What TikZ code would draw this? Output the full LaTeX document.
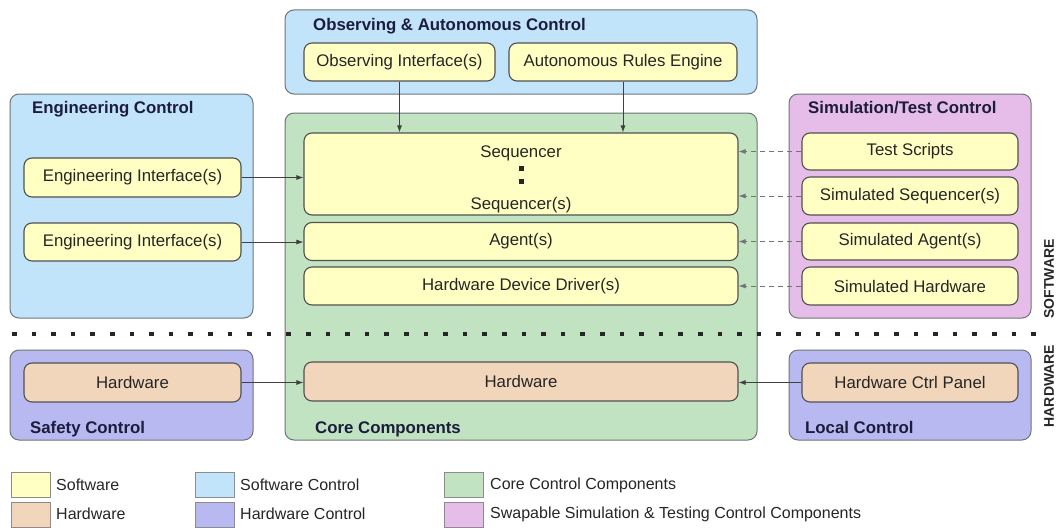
\documentclass[tikz,border=0pt]{standalone}
\usepackage{fontspec}
\setmainfont{Liberation Sans}
\usetikzlibrary{arrows.meta}
\definecolor{swfill}{HTML}{FFFFC4}
\definecolor{hwfill}{HTML}{F2D6BC}
\definecolor{swctl}{HTML}{C2E4FA}
\definecolor{hwctl}{HTML}{B9B9F2}
\definecolor{corefill}{HTML}{C2E3C2}
\definecolor{simfill}{HTML}{E6BDE9}
\definecolor{outline}{HTML}{6E7478}
\definecolor{inline}{HTML}{505050}
\definecolor{titlecol}{HTML}{1C1C3C}
\definecolor{txt}{HTML}{262626}
\begin{document}
\begin{tikzpicture}[x=1pt,y=-1pt,
  font=\fontsize{16.8}{19}\selectfont,
  group/.style={draw=outline, line width=1pt, rounded corners=9pt, inner sep=0pt},
  comp/.style={draw=inline, line width=1.1pt, rounded corners=8pt, inner sep=0pt, text=txt},
  gtitle/.style={font=\fontsize{16.8}{19}\selectfont\bfseries, text=titlecol, anchor=base west, inner sep=0pt},
  conn/.style={-{Latex[length=7pt,width=5pt]}, line width=0.8pt, draw=black!75},
  dconn/.style={conn, dash pattern=on 5pt off 4pt, draw=black!55},
  legsq/.style={draw=black!45, line width=0.8pt, minimum width=39pt, minimum height=25pt, inner sep=0pt},
  legtxt/.style={anchor=west, inner sep=0pt, text=txt, font=\fontsize{16}{19}\selectfont},
  vlabel/.style={rotate=90, font=\fontsize{14}{15}\selectfont\bfseries, text=txt, inner sep=0pt}
]
\useasboundingbox (0,0) rectangle (1056,527);
\fill[white] (0,0) rectangle (1056,527);

% groups
\node[group, fill=swctl, minimum width=472pt, minimum height=84pt] (obsgrp) at (521,52) {};
\node[gtitle] (obsttl) at (313,31) {Observing \& Autonomous Control};
\node[group, fill=corefill, minimum width=472pt, minimum height=327pt] (coregrp) at (521,276.5) {};
\node[gtitle] (corettl) at (315,433) {Core Components};
\node[group, fill=swctl, minimum width=243pt, minimum height=224pt] (enggrp) at (131.5,206) {};
\node[gtitle] (engttl) at (32,113) {Engineering Control};
\node[group, fill=simfill, minimum width=242pt, minimum height=224pt] (simgrp) at (910,206) {};
\node[gtitle] (simttl) at (808,113) {Simulation/Test Control};
\node[group, fill=hwctl, minimum width=243pt, minimum height=90pt] (safgrp) at (131.5,395) {};
\node[gtitle] (safttl) at (30,433) {Safety Control};
\node[group, fill=hwctl, minimum width=242pt, minimum height=90pt] (locgrp) at (910,395) {};
\node[gtitle] (locttl) at (805,433) {Local Control};

% components
\node[comp, fill=swfill, minimum width=191pt, minimum height=38pt] (obsif) at (399.5,62) {Observing Interface(s)};
\node[comp, fill=swfill, minimum width=228pt, minimum height=38pt] (auto) at (623,62) {Autonomous Rules Engine};
\node[comp, fill=swfill, minimum width=434pt, minimum height=82pt] (seq) at (521,174) {};
\node[inner sep=0pt, text=txt] (seqa) at (521,153) {Sequencer};
\node[inner sep=0pt, text=txt] (seqb) at (521,205) {Sequencer(s)};
\fill[black!85] (518.5,165.5) rectangle (523.5,170.5);
\fill[black!85] (518.5,178.5) rectangle (523.5,183.5);
\node[comp, fill=swfill, minimum width=434pt, minimum height=38pt] (agent) at (521,241.5) {Agent(s)};
\node[comp, fill=swfill, minimum width=434pt, minimum height=38pt] (hdd) at (521,286) {Hardware Device Driver(s)};
\node[comp, fill=hwfill, minimum width=434pt, minimum height=39pt] (corehw) at (521,381.5) {Hardware};
\node[comp, fill=swfill, minimum width=217pt, minimum height=39pt] (eng1) at (132.5,177.5) {Engineering Interface(s)};
\node[comp, fill=swfill, minimum width=217pt, minimum height=38pt] (eng2) at (132.5,242) {Engineering Interface(s)};
\node[comp, fill=swfill, minimum width=216pt, minimum height=37pt] (tests) at (910,151.5) {Test Scripts};
\node[comp, fill=swfill, minimum width=216pt, minimum height=38pt] (simseq) at (910,196) {Simulated Sequencer(s)};
\node[comp, fill=swfill, minimum width=216pt, minimum height=37pt] (simagent) at (910,241.5) {Simulated Agent(s)};
\node[comp, fill=swfill, minimum width=216pt, minimum height=38pt] (simhw) at (910,286) {Simulated Hardware};
\node[comp, fill=hwfill, minimum width=217pt, minimum height=39pt] (safhw) at (132.5,382.5) {Hardware};
\node[comp, fill=hwfill, minimum width=216pt, minimum height=39pt] (panel) at (910,382.5) {Hardware Ctrl Panel};

% connectors
\draw[conn] (obsif.south) -- (obsif.south |- seq.north);
\draw[conn] (auto.south) -- (auto.south |- seq.north);
\draw[conn] (eng1.east) -- (eng1.east -| seq.west);
\draw[conn] (eng2.east) -- (eng2.east -| agent.west);
\draw[dconn] (tests.west) -- (tests.west -| seq.east);
\draw[dconn] (simseq.west) -- (simseq.west -| seq.east);
\draw[dconn] (simagent.west) -- (simagent.west -| agent.east);
\draw[dconn] (simhw.west) -- (simhw.west -| hdd.east);
\draw[conn] (safhw.east) -- (safhw.east -| corehw.west);
\draw[conn] (panel.west) -- (panel.west -| corehw.east);

% software / hardware divider
\draw[line width=4.5pt, dash pattern=on 4.5pt off 15.1pt, draw=black!85] (12,334) -- (1042,334);
\node[vlabel] (swlbl) at (1049,279) {SOFTWARE};
\node[vlabel] (hwlbl) at (1049,386) {HARDWARE};

% legend
\node[legsq, fill=swfill] (lg1) at (30.5,484.5) {};
\node[legtxt] (lt1) at (56,485) {Software};
\node[legsq, fill=hwfill] (lg2) at (30.5,514.5) {};
\node[legtxt] (lt2) at (56,514) {Hardware};
\node[legsq, fill=swctl] (lg3) at (215,484.5) {};
\node[legtxt] (lt3) at (240,485) {Software Control};
\node[legsq, fill=hwctl] (lg4) at (215,514.5) {};
\node[legtxt] (lt4) at (240,514) {Hardware Control};
\node[legsq, fill=corefill] (lg5) at (463.5,484.5) {};
\node[legtxt] (lt5) at (490,485) {Core Control Components};
\node[legsq, fill=simfill] (lg6) at (463.5,514.5) {};
\node[legtxt] (lt6) at (490,514) {Swapable Simulation \& Testing Control Components};
\end{tikzpicture}
\end{document}
